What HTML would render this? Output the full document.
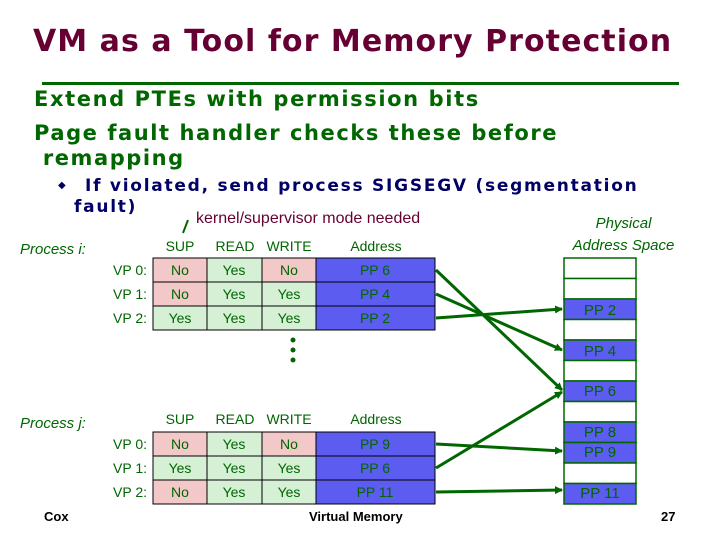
<!DOCTYPE html>
<html><head><meta charset="utf-8"><style>
body{margin:0;width:720px;height:540px;background:#fff;position:relative;overflow:hidden;font-family:"Liberation Sans",sans-serif}
.a{position:absolute;white-space:nowrap}
</style></head><body>
<div class="a" style="left:33px;top:24px;font-size:30px;font-weight:bold;color:#660033;font-family:'DejaVu Sans',sans-serif;letter-spacing:1.05px">VM as a Tool for Memory Protection</div>
<div class="a" style="left:42px;top:82px;width:637px;height:3px;background:#006600"></div>
<div class="a" style="left:34px;top:87px;font-size:21px;font-weight:bold;color:#006600;font-family:'DejaVu Sans',sans-serif;line-height:25px;letter-spacing:1.6px">Extend PTEs with permission bits</div>
<div class="a" style="left:34px;top:121px;font-size:21px;font-weight:bold;color:#006600;font-family:'DejaVu Sans',sans-serif;line-height:25px;letter-spacing:1.55px">Page fault handler checks these before<br>&nbsp;remapping</div>
<div class="a" style="left:58px;top:180px;font-size:10px;color:#000066">◆</div>
<div class="a" style="left:85px;top:176px;font-size:17px;font-weight:bold;color:#000066;font-family:'DejaVu Sans',sans-serif;line-height:21px;letter-spacing:1.75px">If violated, send process SIGSEGV (segmentation</div>
<div class="a" style="left:74px;top:197px;font-size:17px;font-weight:bold;color:#000066;font-family:'DejaVu Sans',sans-serif;line-height:21px;letter-spacing:1.75px">fault)</div>
<div class="a" style="left:196px;top:210px;font-size:16px;color:#660033">kernel/supervisor mode needed</div>
<div class="a" style="left:566px;top:213px;font-size:15px;font-style:italic;color:#006600;text-align:center;line-height:22px;width:115px">Physical<br>Address Space</div>
<div class="a" style="left:20px;top:241px;font-size:15px;font-style:italic;color:#006600">Process i:</div>
<div class="a" style="left:20px;top:415px;font-size:15px;font-style:italic;color:#006600">Process j:</div>
<svg class="a" style="left:0;top:0" width="720" height="540">
<defs><marker id="m" markerWidth="8" markerHeight="8" refX="7" refY="4" orient="auto" markerUnits="userSpaceOnUse"><path d="M0,0 L8,4 L0,8 z" fill="#006600"/></marker></defs>
<g font-family="Liberation Sans" font-size="14" fill="#006600" text-anchor="middle">
<rect x="153" y="258" width="54" height="24" fill="#f2c8c8" stroke="#000"/>
<rect x="207" y="258" width="55" height="24" fill="#d6f0d6" stroke="#000"/>
<rect x="262" y="258" width="54" height="24" fill="#f2c8c8" stroke="#000"/>
<rect x="316" y="258" width="119" height="24" fill="#5c5cf0" stroke="#000"/>
<rect x="153" y="282" width="54" height="24" fill="#f2c8c8" stroke="#000"/>
<rect x="207" y="282" width="55" height="24" fill="#d6f0d6" stroke="#000"/>
<rect x="262" y="282" width="54" height="24" fill="#d6f0d6" stroke="#000"/>
<rect x="316" y="282" width="119" height="24" fill="#5c5cf0" stroke="#000"/>
<rect x="153" y="306" width="54" height="24" fill="#d6f0d6" stroke="#000"/>
<rect x="207" y="306" width="55" height="24" fill="#d6f0d6" stroke="#000"/>
<rect x="262" y="306" width="54" height="24" fill="#d6f0d6" stroke="#000"/>
<rect x="316" y="306" width="119" height="24" fill="#5c5cf0" stroke="#000"/>
<text x="180" y="251">SUP</text><text x="235" y="251">READ</text><text x="289" y="251">WRITE</text><text x="376" y="251">Address</text>
<text x="180" y="275">No</text><text x="234" y="275">Yes</text><text x="289" y="275">No</text><text x="375" y="275">PP 6</text>
<text x="180" y="299">No</text><text x="234" y="299">Yes</text><text x="289" y="299">Yes</text><text x="375" y="299">PP 4</text>
<text x="180" y="323">Yes</text><text x="234" y="323">Yes</text><text x="289" y="323">Yes</text><text x="375" y="323">PP 2</text>
<text x="130" y="275">VP 0:</text><text x="130" y="299">VP 1:</text><text x="130" y="323">VP 2:</text>
<rect x="153" y="432" width="54" height="24" fill="#f2c8c8" stroke="#000"/>
<rect x="207" y="432" width="55" height="24" fill="#d6f0d6" stroke="#000"/>
<rect x="262" y="432" width="54" height="24" fill="#f2c8c8" stroke="#000"/>
<rect x="316" y="432" width="119" height="24" fill="#5c5cf0" stroke="#000"/>
<rect x="153" y="456" width="54" height="24" fill="#d6f0d6" stroke="#000"/>
<rect x="207" y="456" width="55" height="24" fill="#d6f0d6" stroke="#000"/>
<rect x="262" y="456" width="54" height="24" fill="#d6f0d6" stroke="#000"/>
<rect x="316" y="456" width="119" height="24" fill="#5c5cf0" stroke="#000"/>
<rect x="153" y="480" width="54" height="24" fill="#f2c8c8" stroke="#000"/>
<rect x="207" y="480" width="55" height="24" fill="#d6f0d6" stroke="#000"/>
<rect x="262" y="480" width="54" height="24" fill="#d6f0d6" stroke="#000"/>
<rect x="316" y="480" width="119" height="24" fill="#5c5cf0" stroke="#000"/>
<text x="180" y="424">SUP</text><text x="235" y="424">READ</text><text x="289" y="424">WRITE</text><text x="376" y="424">Address</text>
<text x="180" y="449">No</text><text x="234" y="449">Yes</text><text x="289" y="449">No</text><text x="375" y="449">PP 9</text>
<text x="180" y="473">Yes</text><text x="234" y="473">Yes</text><text x="289" y="473">Yes</text><text x="375" y="473">PP 6</text>
<text x="180" y="497">No</text><text x="234" y="497">Yes</text><text x="289" y="497">Yes</text><text x="375" y="497">PP 11</text>
<text x="130" y="449">VP 0:</text><text x="130" y="473">VP 1:</text><text x="130" y="497">VP 2:</text>
</g>
<g fill="#006600"><circle cx="293" cy="340" r="2.5"/><circle cx="293" cy="350" r="2.5"/><circle cx="293" cy="360" r="2.5"/></g>
<g stroke="#006600" stroke-width="1.5" fill="#fff">
<rect x="564" y="258" width="72" height="20.5"/><rect x="564" y="278.5" width="72" height="20.5"/>
<rect x="564" y="299" width="72" height="20.5" fill="#5c5cf0"/><rect x="564" y="319.5" width="72" height="20.5"/>
<rect x="564" y="340" width="72" height="20.5" fill="#5c5cf0"/><rect x="564" y="360.5" width="72" height="20.5"/>
<rect x="564" y="381" width="72" height="20.5" fill="#5c5cf0"/><rect x="564" y="401.5" width="72" height="20.5"/>
<rect x="564" y="422" width="72" height="20.5" fill="#5c5cf0"/><rect x="564" y="442.5" width="72" height="20.5" fill="#5c5cf0"/>
<rect x="564" y="463" width="72" height="20.5"/><rect x="564" y="483.5" width="72" height="20.5" fill="#5c5cf0"/>
</g>
<g font-family="Liberation Sans" font-size="15" fill="#006600" text-anchor="middle">
<text x="600" y="315">PP 2</text><text x="600" y="356">PP 4</text><text x="600" y="396">PP 6</text>
<text x="600" y="437">PP 8</text><text x="600" y="457">PP 9</text><text x="600" y="498">PP 11</text>
</g>
<g stroke="#006600" stroke-width="3" marker-end="url(#m)">
<line x1="436" y1="270" x2="562" y2="390"/>
<line x1="436" y1="294" x2="562" y2="350"/>
<line x1="436" y1="318" x2="562" y2="309"/>
<line x1="436" y1="444" x2="562" y2="451"/>
<line x1="436" y1="468" x2="562" y2="392"/>
<line x1="436" y1="492" x2="562" y2="490"/>
</g>
<line x1="188" y1="220" x2="183" y2="233" stroke="#006600" stroke-width="2"/>
<g font-family="Liberation Sans" font-size="13" font-weight="bold" fill="#000">
<text x="44" y="521">Cox</text><text x="309" y="521">Virtual Memory</text><text x="661" y="521">27</text>
</g>
</svg>
</body></html>
